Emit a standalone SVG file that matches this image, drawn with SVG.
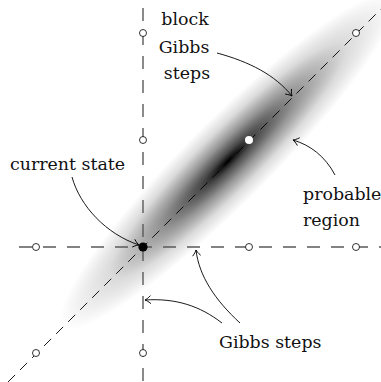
<svg xmlns="http://www.w3.org/2000/svg" width="381" height="382" viewBox="0 0 381 382">
<defs>
<radialGradient id="g">
<stop offset="0" stop-color="#000" stop-opacity="1"/>
<stop offset="0.15" stop-color="#000" stop-opacity="0.72"/>
<stop offset="0.4" stop-color="#000" stop-opacity="0.42"/>
<stop offset="0.7" stop-color="#000" stop-opacity="0.14"/>
<stop offset="1" stop-color="#000" stop-opacity="0"/>
</radialGradient>
<marker id="arr" markerUnits="userSpaceOnUse" markerWidth="12" markerHeight="12" viewBox="-7 -6 8 12" refX="0" refY="0" orient="auto" overflow="visible">
<path d="M-5.5,-3.8 C-3.2,-1.6 -1.2,-0.5 0,0 C-1.2,0.5 -3.2,1.6 -5.5,3.8" fill="none" stroke="#000" stroke-width="0.9" stroke-linecap="round"/>
</marker>
</defs>
<style>
.ax{stroke:#5a5a5a;stroke-width:1.4;stroke-dasharray:13 11;fill:none}
.dg{stroke:#000;stroke-width:0.9;stroke-dasharray:10 7;fill:none}
.oc{fill:#fff;stroke:#000;stroke-width:0.8}
.ar{fill:none;stroke:#000;stroke-width:0.9;marker-end:url(#arr)}
text{font-family:"DejaVu Serif",serif;font-size:17.4px;fill:#111}
</style>
<rect width="381" height="382" fill="#fff"/>
<g id="region">
<ellipse cx="0" cy="0" rx="235" ry="42" transform="translate(228,161) rotate(-45)" fill="url(#g)"/>
</g>
<g id="lines">
<line class="ax" x1="10" y1="247" x2="381" y2="247" stroke-dashoffset="-9"/>
<line class="ax" x1="143" y1="8" x2="143" y2="382"/>
<line class="dg" x1="8" y1="382" x2="381" y2="9"/>
</g>
<g id="points">
<circle class="oc" cx="36" cy="247" r="3.5"/>
<circle class="oc" cx="249" cy="247" r="3.5"/>
<circle class="oc" cx="356" cy="247" r="3.5"/>
<circle class="oc" cx="143" cy="33" r="3.5"/>
<circle class="oc" cx="143" cy="140" r="3.5"/>
<circle class="oc" cx="143" cy="353" r="3.5"/>
<circle class="oc" cx="36" cy="353" r="3.5"/>
<circle class="oc" cx="356" cy="33" r="3.5"/>
<circle cx="249" cy="140" r="4" fill="#fff"/>
<circle cx="143" cy="247" r="4.6" fill="#000"/>
</g>
<g id="connectors">
<path class="ar" d="M217,53 C250,62 275,75 292,96"/>
<path class="ar" d="M72,177 C80,206 106,234 139,245"/>
<path class="ar" d="M335,175 C325,156 310,145 293,140"/>
<path class="ar" d="M222,323 C200,306 176,298 145,300"/>
<path class="ar" d="M240,323 C215,300 199,276 196,250"/>
</g>
<g id="label-block">
<text x="185" y="25" text-anchor="middle">block</text>
<text x="184" y="53" text-anchor="middle">Gibbs</text>
<text x="187" y="79" text-anchor="middle">steps</text>
</g>
<g id="label-current">
<text x="10" y="170">current state</text>
</g>
<g id="label-probable">
<text x="303" y="200">probable</text>
<text x="303" y="226">region</text>
</g>
<g id="label-gibbs">
<text x="219" y="348">Gibbs steps</text>
</g>
</svg>
